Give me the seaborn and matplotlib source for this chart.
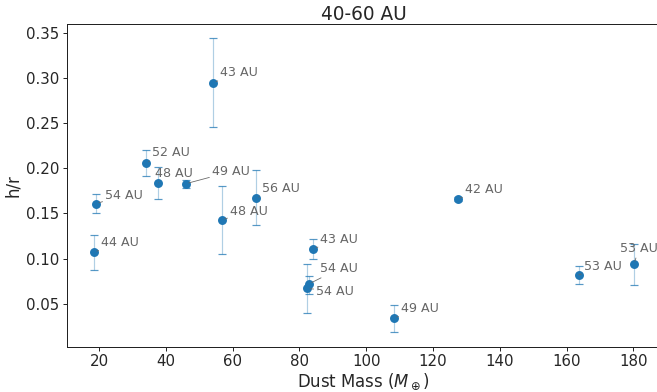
import matplotlib
matplotlib.use("Agg")
import matplotlib.pyplot as plt
import seaborn as sns
import numpy as np
import pandas as pd

# Dust mass (Earth masses) and disk aspect ratio h/r for the 40-60 AU sample
mass = [19.1, 18.5, 34.0, 37.8, 46.0, 54.2, 56.8, 67.0, 84.2, 82.9, 82.3, 108.3, 127.4, 163.7, 180.2]
hr = [0.161, 0.107, 0.206, 0.184, 0.183, 0.295, 0.143, 0.167, 0.111, 0.072, 0.067, 0.034, 0.166, 0.082, 0.094]
err_lo = [0.011, 0.020, 0.014, 0.018, 0.005, 0.049, 0.038, 0.030, 0.011, 0.011, 0.027, 0.015, 0.002, 0.010, 0.023]
err_hi = [0.011, 0.019, 0.014, 0.018, 0.004, 0.049, 0.038, 0.031, 0.011, 0.009, 0.027, 0.015, 0.002, 0.010, 0.022]
radius = [54, 44, 52, 48, 49, 43, 48, 56, 43, 54, 54, 49, 42, 53, 53]

# label offsets in points (dx right, dy up) from each marker
label_dx = [9, 7, 6, -3, 26, 7, 8, 6, 7, 11, 9, 7, 7, 5, -14]
label_dy = [8, 10, 10, 9, 12, 10, 8, 10, 9, 15, -3, 10, 10, 8, 15]

df = pd.DataFrame({"mass": mass, "hr": hr})

sns.set_style("ticks")
plt.rcParams["font.family"] = ["DejaVu Sans"]

fig = plt.figure(figsize=(657 / 72, 392 / 72), dpi=72)
ax = fig.add_axes([67 / 657, 45 / 392, 593 / 657, 323 / 392])

eb = ax.errorbar(mass, hr, yerr=[err_lo, err_hi], fmt="none",
                 ecolor="#1f77b4", elinewidth=1.2, capsize=4, capthick=1.2)
for bar in eb[2]:
    bar.set_alpha(0.35)
for cap in eb[1]:
    cap.set_alpha(0.75)

sns.scatterplot(data=df, x="mass", y="hr", ax=ax, s=80, color="#1f77b4",
                linewidth=0, zorder=3)

for x, y, r, dx, dy in zip(mass, hr, radius, label_dx, label_dy):
    ax.annotate(f"{r} AU", xy=(x, y), xytext=(dx, dy), textcoords="offset points",
                ha="left", va="center", fontsize=12.6, color="#666666",
                arrowprops=dict(arrowstyle="-", color="#666666", lw=0.8,
                                shrinkA=0, shrinkB=3))

ax.set_xlim(10.4, 188)
ax.set_ylim(0.002, 0.360)
ax.set_xticks(np.arange(20, 181, 20))
ax.set_yticks([0.05, 0.10, 0.15, 0.20, 0.25, 0.30, 0.35])
ax.tick_params(labelsize=15, length=4, width=1)
for sp in ax.spines.values():
    sp.set_color("#222222")
    sp.set_linewidth(1.0)

ax.set_xlabel(r"Dust Mass ($M_\oplus$)", fontsize=16.5, labelpad=2)
ax.set_ylabel("h/r", fontsize=16.5, labelpad=4)
ax.set_title("40-60 AU", fontsize=18.5, pad=4)

fig.savefig("out.png", dpi=72)
